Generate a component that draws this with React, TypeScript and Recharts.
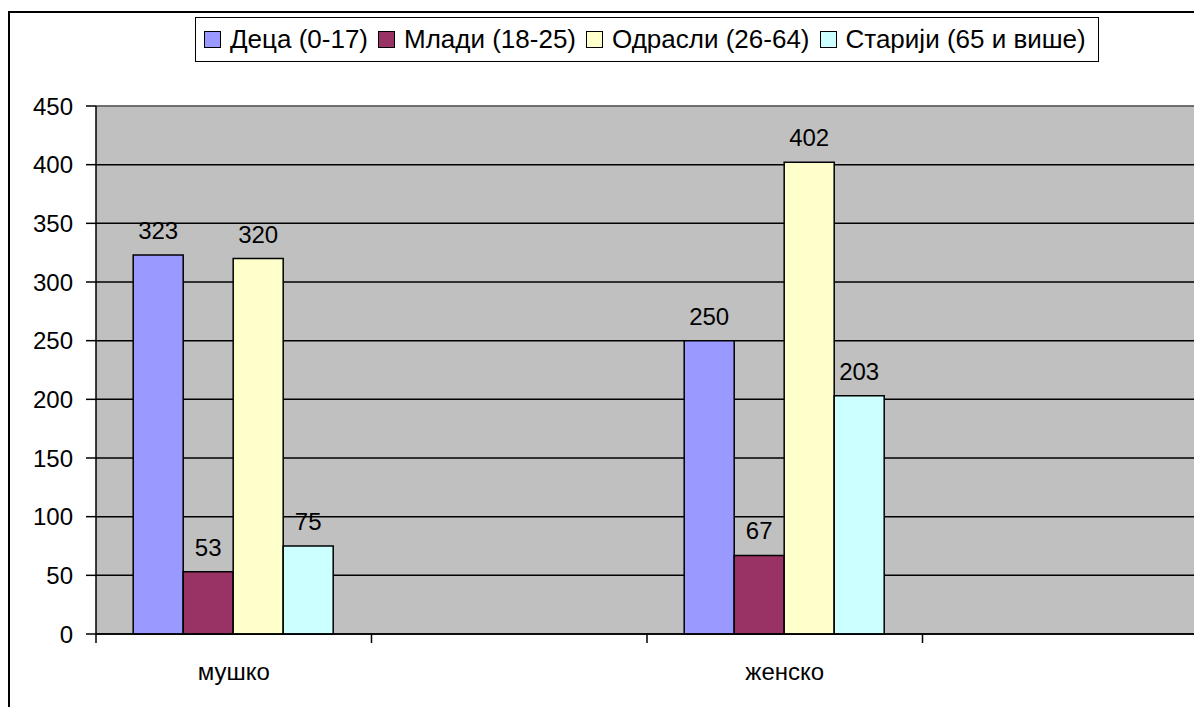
import React from "react";
import { BarChart, Bar, XAxis, YAxis, CartesianGrid, Legend, LabelList, ReferenceLine } from "recharts";

const categories = ["мушко", "", "женско", " "];
const seriesNames = ["Деца (0-17)", "Млади (18-25)", "Одрасли (26-64)", "Старији (65 и више)"];
const seriesColors = ["#9999FF", "#993366", "#FFFFCC", "#CCFFFF"];
const deca = [323, null, 250, null];
const mladi = [53, null, 67, null];
const odrasli = [320, null, 402, null];
const stariji = [75, null, 203, null];
const yTicks = [0, 50, 100, 150, 200, 250, 300, 350, 400, 450];

const seriesValues = [deca, mladi, odrasli, stariji];
const keys = ["s0", "s1", "s2", "s3"];
const data = categories.map((c, i) => {
  const row: any = { name: c };
  seriesValues.forEach((vals, s) => {
    row[keys[s]] = vals[i];
  });
  return row;
});

const FONT = "'Liberation Sans', Arial, Helvetica, sans-serif";

const XTick = (props: any) => {
  const { x, y, payload, index } = props;
  const half = payload && payload.offset ? payload.offset : 1102 / 8;
  const last = index === categories.length - 1;
  return (
    <g>
      <line x1={x - half} x2={x - half} y1={y} y2={y + 9} stroke="#000" strokeWidth={1.5} />
      {last && <line x1={x + half} x2={x + half} y1={y} y2={y + 9} stroke="#000" strokeWidth={1.5} />}
      <text x={x} y={y + 46} textAnchor="middle" fontSize={24} fontFamily={FONT} fill="#000">
        {payload.value}
      </text>
    </g>
  );
};

const LegendContent = (props: any) => {
  const { payload } = props;
  return (
    <div
      style={{
        display: "inline-flex",
        alignItems: "center",
        border: "1.5px solid #000",
        background: "#fff",
        height: 45,
        padding: "0 12px 0 8px",
        fontSize: 26,
        fontFamily: FONT,
        color: "#000",
        whiteSpace: "nowrap",
        boxSizing: "border-box",
      }}
    >
      {(payload || []).map((entry: any, i: number) => (
        <span key={i} style={{ display: "inline-flex", alignItems: "center", marginRight: i < 3 ? 10 : 0 }}>
          <span
            style={{
              display: "inline-block",
              width: 15,
              height: 15,
              background: entry.color,
              border: "1.5px solid #000",
              marginRight: 9,
            }}
          />
          {entry.value}
        </span>
      ))}
    </div>
  );
};

export default function App() {
  return (
    <div style={{ position: "relative", width: 1194, height: 699, overflow: "hidden", background: "#fff" }}>
      <div
        style={{
          position: "absolute",
          left: 0,
          top: 3,
          width: 1400,
          height: 900,
          borderLeft: "2px solid #000",
          borderTop: "2px solid #000",
        }}
      />
      <div style={{ position: "absolute", left: 0, top: 0 }}>
        <BarChart
          width={1194}
          height={699}
          data={data}
          margin={{ top: 98, right: 4, left: 0, bottom: 13 }}
          barCategoryGap="13.5%"
          barGap={0}
        >
          <CartesianGrid vertical={false} fill="#C0C0C0" fillOpacity={1} stroke="#000" strokeWidth={1.5} />
          <XAxis
            dataKey="name"
            height={60}
            tickLine={false}
            tickSize={0}
            tickMargin={0}
            axisLine={{ stroke: "#000", strokeWidth: 1.5 }}
            tick={<XTick />}
            interval={0}
          />
          <YAxis
            width={88}
            domain={[0, 450]}
            ticks={yTicks}
            interval={0}
            tickSize={10}
            tickMargin={13}
            axisLine={{ stroke: "#000", strokeWidth: 1.5 }}
            tickLine={{ stroke: "#000", strokeWidth: 1.5 }}
            tick={{ fill: "#000", fontSize: 24, fontFamily: FONT }}
          />
          <YAxis
            yAxisId="right"
            orientation="right"
            width={0}
            domain={[0, 450]}
            tick={false}
            tickLine={false}
            axisLine={{ stroke: "#808080", strokeWidth: 1.5 }}
          />
          <ReferenceLine y={450} stroke="#808080" strokeWidth={1.5} />
          <Legend
            layout="horizontal"
            verticalAlign="middle"
            align="center"
            content={<LegendContent />}
            wrapperStyle={{ top: 9, left: 187, width: "auto", height: "auto" }}
          />
          {keys.map((k, i) => (
            <Bar
              key={k}
              dataKey={k}
              name={seriesNames[i]}
              fill={seriesColors[i]}
              stroke="#000"
              strokeWidth={1.5}
              isAnimationActive={false}
            >
              <LabelList
                dataKey={k}
                position="top"
                offset={16}
                fill="#000"
                fontSize={24}
                fontFamily={FONT}
              />
            </Bar>
          ))}
        </BarChart>
      </div>
    </div>
  );
}
